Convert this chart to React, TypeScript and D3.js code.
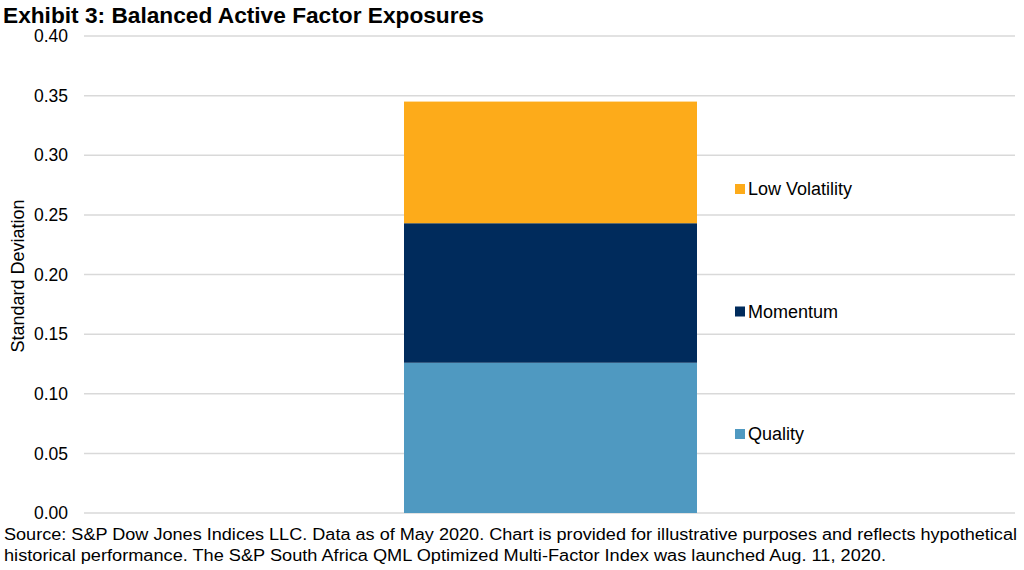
import React from 'react';
import * as d3 from 'd3';

// Chart values
const categories = ['Index'];
const seriesNames = ['Quality', 'Momentum', 'Low Volatility'];
const seriesValues = [[0.126], [0.117], [0.102]];
const seriesColors = ['#4F99C1', '#002B5C', '#FDAB1A'];
const yTicks = [0, 0.05, 0.1, 0.15, 0.2, 0.25, 0.3, 0.35, 0.4];

const WIDTH = 1024;
const HEIGHT = 570;
const FONT = 'Liberation Sans, Arial, sans-serif';

const App: React.FC = () => {
  const plot = { left: 84, right: 1015, top: 36, bottom: 513 };

  const y = d3.scaleLinear().domain([0, 0.4]).range([plot.bottom, plot.top]);
  // one category; bar occupies roughly the middle third like Excel's gap width
  const x = d3
    .scaleBand()
    .domain(categories)
    .range([404, 697])
    .padding(0);

  const rows = categories.map((c, i) => {
    const r: Record<string, number | string> = { category: c };
    seriesNames.forEach((s, j) => (r[s] = seriesValues[j][i]));
    return r;
  });
  const stacked = d3.stack<Record<string, number | string>>().keys(seriesNames)(rows as any);

  const legendY = d3
    .scalePoint<string>()
    .domain([...seriesNames].reverse())
    .range([189, 434]);

  return (
    <svg
      width={WIDTH}
      height={HEIGHT}
      style={{ position: 'absolute', left: 0, top: 0, background: '#fff' }}
      fontFamily={FONT}
    >
      <text x={3} y={23} fontSize={22.7} fontWeight="bold" fill="#000">
        Exhibit 3: Balanced Active Factor Exposures
      </text>

      {/* gridlines */}
      {yTicks.map((t) => (
        <line
          key={t}
          x1={plot.left}
          x2={plot.right}
          y1={y(t)}
          y2={y(t)}
          stroke="#D9D9D9"
          strokeWidth={1.5}
        />
      ))}

      {/* tick labels */}
      {yTicks.map((t) => (
        <text
          key={'l' + t}
          x={68}
          y={y(t)}
          dy="0.35em"
          textAnchor="end"
          fontSize={17.5}
          fill="#000"
        >
          {d3.format('.2f')(t)}
        </text>
      ))}

      <text
        transform={`translate(24,276) rotate(-90)`}
        textAnchor="middle"
        fontSize={18}
        fill="#000"
      >
        Standard Deviation
      </text>

      {/* stacked bar */}
      {stacked.map((layer, j) =>
        layer.map((d, i) => (
          <rect
            key={seriesNames[j] + i}
            x={x(categories[i])!}
            width={x.bandwidth()}
            y={y(d[1])}
            height={y(d[0]) - y(d[1])}
            fill={seriesColors[j]}
          />
        ))
      )}

      {/* legend */}
      {seriesNames.map((s, j) => (
        <g key={'lg' + s} transform={`translate(735,${legendY(s)})`}>
          <rect x={0} y={-5} width={10} height={10} fill={seriesColors[j]} />
          <text x={13} y={0} dy="0.35em" fontSize={18} fill="#000">
            {s}
          </text>
        </g>
      ))}

      {/* source note */}
      <text x={4} y={540} fontSize={16} fill="#000" textLength={1013} lengthAdjust="spacingAndGlyphs">
        Source: S&amp;P Dow Jones Indices LLC. Data as of May 2020. Chart is provided for illustrative purposes and reflects hypothetical
      </text>
      <text x={4} y={561} fontSize={16} fill="#000" textLength={882} lengthAdjust="spacingAndGlyphs">
        historical performance. The S&amp;P South Africa QML Optimized Multi-Factor Index was launched Aug. 11, 2020.
      </text>
    </svg>
  );
};

export default App;
